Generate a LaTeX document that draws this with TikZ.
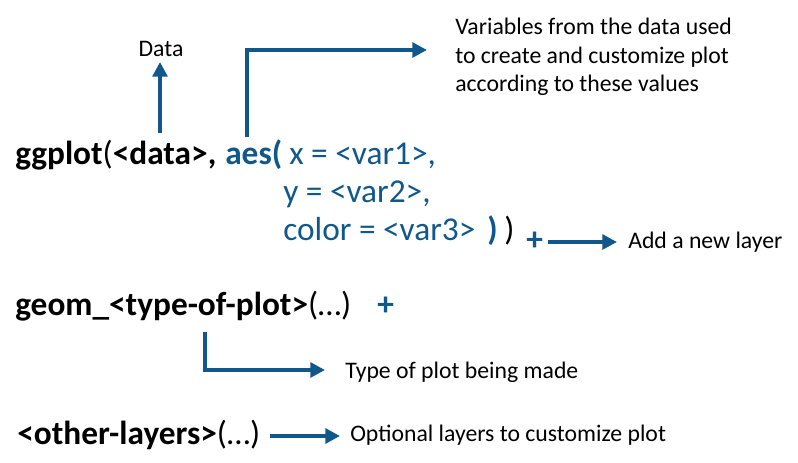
\documentclass[tikz,border=0pt]{standalone}
\usepackage{fontspec}
\setmainfont{Carlito}
\usetikzlibrary{arrows.meta}
\definecolor{rblue}{RGB}{16,88,140}
\begin{document}
\begin{tikzpicture}[x=0.75pt,y=-0.75pt,
  code/.style={anchor=base west,inner sep=0pt,font=\fontsize{25}{30}\selectfont},
  lbl/.style={anchor=base west,inner sep=0pt,font=\fontsize{17.8}{21.4}\selectfont},
  arr/.style={draw=rblue,line width=3pt,-{Triangle[length=11pt,width=11pt]}}]
\useasboundingbox (0,0) rectangle (798,463);
% line 1
\node[code] (gg) at (15,165) {\textbf{ggplot}(\textbf{<data>,}};
\node[code,text=rblue] (aes) at (225,165) {\textbf{aes(}};
\node[code,text=rblue] (v1) at (289,165) {x = <var1>,};
% line 2
\node[code,text=rblue] (v2) at (283,203) {y = <var2>,};
% line 3
\node[code,text=rblue] (v3) at (283,240) {color = <var3>};
\node[code,text=rblue] (p1) at (487,240) {\textbf{)}};
\node[code] (p2) at (504,240) {)};
\node[code,text=rblue] (plus1) at (526,250) {\textbf{+}};
% geom line
\node[code] (geom) at (15,315) {\textbf{geom\_<type-of-plot>}(…)};
\node[code,text=rblue] (plus2) at (377,315) {\textbf{+}};
% other layers
\node[code] (other) at (17,444) {\textbf{<other-layers>}(…)};
% labels
\node[lbl,anchor=base] (data) at (161,57) {Data};
\node[lbl,align=left,anchor=base west] (vars) at (455,92) {Variables from the data used\\to create and customize plot\\according to these values};
\node[lbl] (add) at (628,248) {Add a new layer};
\node[lbl] (type) at (345,378) {Type of plot being made};
\node[lbl] (opt) at (350,441) {Optional layers to customize plot};
% coordinates
\coordinate (dataS) at (160,133);
\coordinate (dataE) at (160,62);
\coordinate (aesS) at (247,137);
\coordinate (aesE) at (427,50);
\coordinate (addS) at (548,242);
\coordinate (addE) at (617,242);
\coordinate (geomS) at (205,332);
\coordinate (geomE) at (325,370);
\coordinate (othS) at (270,436);
\coordinate (othE) at (340,436);
% arrows
\draw[arr] (dataS) -- (dataE);
\draw[arr] (aesS) |- (aesE);
\draw[arr] (addS) -- (addE);
\draw[arr] (geomS) |- (geomE);
\draw[arr] (othS) -- (othE);
\end{tikzpicture}
\end{document}
